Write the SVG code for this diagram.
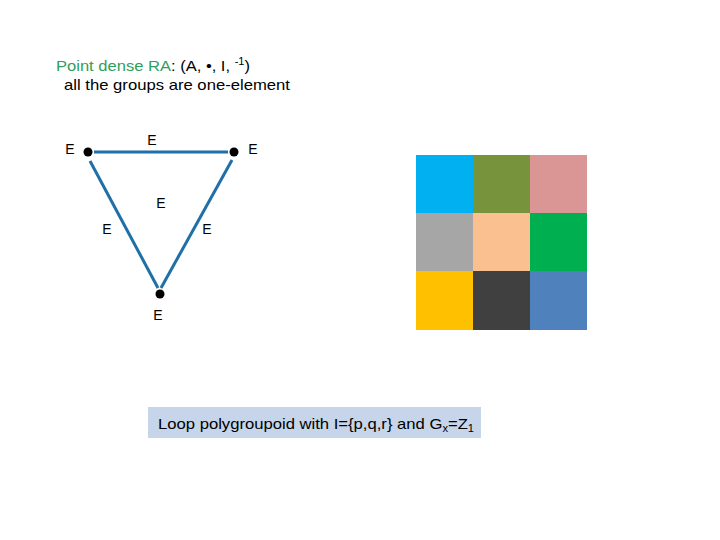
<svg xmlns="http://www.w3.org/2000/svg" width="720" height="540" viewBox="0 0 720 540">
<style>
text{font-family:"Liberation Sans","Open Sans",sans-serif;fill:#000}
.t{font-size:15px}
.e{font-size:14px;text-anchor:middle}
.edge{stroke:#1F6FA8;stroke-width:3;fill:none}
.dot{fill:#000}
</style>
<rect width="720" height="540" fill="#fff"/>
<g id="title">
<text class="t" x="56" y="71" textLength="194" lengthAdjust="spacingAndGlyphs"><tspan fill="#2EA05A">Point dense RA</tspan>:  (A, •, I, <tspan font-size="10" dy="-6">-1</tspan><tspan dy="6">)</tspan></text>
<text class="t" x="64" y="90" textLength="226" lengthAdjust="spacingAndGlyphs">all the groups are one-element</text>
</g>
<g id="connectors">
<line class="edge" x1="94" y1="152" x2="228" y2="152"/>
<line class="edge" x1="90" y1="161" x2="158" y2="288"/>
<line class="edge" x1="232" y1="160" x2="161" y2="288"/>
</g>
<g id="node-left"><circle class="dot" cx="88" cy="152" r="4.5"/><text class="e" x="70" y="154">E</text></g>
<g id="node-right"><circle class="dot" cx="234" cy="152" r="4.5"/><text class="e" x="253" y="154">E</text></g>
<g id="node-bottom"><circle class="dot" cx="160" cy="294" r="4.5"/><text class="e" x="158" y="320">E</text></g>
<g id="edge-labels">
<text class="e" x="152" y="145">E</text>
<text class="e" x="161" y="208">E</text>
<text class="e" x="107" y="234">E</text>
<text class="e" x="207" y="234">E</text>
</g>
<g id="grid">
<rect x="416" y="155" width="57" height="58" fill="#00B0F0"/>
<rect x="473" y="155" width="57" height="58" fill="#77933C"/>
<rect x="530" y="155" width="57" height="58" fill="#D99694"/>
<rect x="416" y="213" width="57" height="58" fill="#A6A6A6"/>
<rect x="473" y="213" width="57" height="58" fill="#FAC090"/>
<rect x="530" y="213" width="57" height="58" fill="#00B050"/>
<rect x="416" y="271" width="57" height="59" fill="#FFC000"/>
<rect x="473" y="271" width="57" height="59" fill="#404040"/>
<rect x="530" y="271" width="57" height="59" fill="#4F81BD"/>
</g>
<g id="caption">
<rect x="148" y="407" width="333" height="31" fill="#C6D5E9"/>
<text class="t" x="158" y="429" textLength="316" lengthAdjust="spacingAndGlyphs">Loop polygroupoid with I={p,q,r} and G<tspan font-size="10" dy="3">x</tspan><tspan dy="-3">=Z</tspan><tspan font-size="10" dy="3">1</tspan></text>
</g>
</svg>
